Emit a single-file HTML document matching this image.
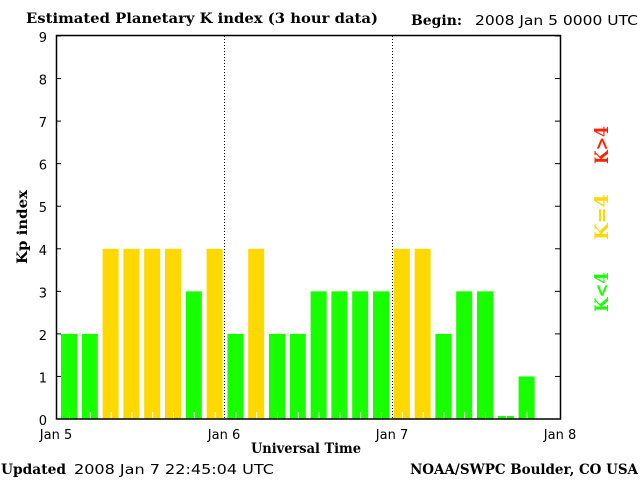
<!DOCTYPE html>
<html><head><meta charset="utf-8"><style>
body{margin:0;background:#fff}
svg{display:block}
.t{font-family:"DejaVu Serif","Liberation Serif",serif;font-weight:bold;font-size:14px}
.n{font-family:"DejaVu Sans","Liberation Sans",sans-serif;font-size:13px}
</style></head><body>
<svg id="c" width="640" height="480" xmlns="http://www.w3.org/2000/svg">
<text class="t" x="26" y="23" textLength="352" lengthAdjust="spacingAndGlyphs">Estimated Planetary K index (3 hour data)</text>
<text class="t" x="411" y="25" textLength="51" lengthAdjust="spacingAndGlyphs">Begin:</text>
<text class="n" x="475" y="25" textLength="163" lengthAdjust="spacingAndGlyphs">2008 Jan 5 0000 UTC</text>
<text class="t" x="1" y="474" textLength="65" lengthAdjust="spacingAndGlyphs">Updated</text>
<text class="n" x="74" y="474" textLength="200" lengthAdjust="spacingAndGlyphs">2008 Jan  7 22:45:04 UTC</text>
<text class="t" x="410" y="474" textLength="228" lengthAdjust="spacingAndGlyphs">NOAA/SWPC Boulder, CO USA</text>
<text class="t" x="306" y="453" text-anchor="middle" textLength="110" lengthAdjust="spacingAndGlyphs">Universal Time</text>
<text class="t" transform="translate(27,227) rotate(-90)" text-anchor="middle" textLength="74" lengthAdjust="spacingAndGlyphs">Kp index</text>
<text class="t" fill="#ff2200" style="font-size:19px" transform="translate(608,145) rotate(-90)" text-anchor="middle" textLength="38" lengthAdjust="spacingAndGlyphs">K&gt;4</text>
<text class="t" fill="#ffd800" style="font-size:19px" transform="translate(608,217) rotate(-90)" text-anchor="middle" textLength="46" lengthAdjust="spacingAndGlyphs">K=4</text>
<text class="t" fill="#18ff00" style="font-size:19px" transform="translate(608,292) rotate(-90)" text-anchor="middle" textLength="40" lengthAdjust="spacingAndGlyphs">K&lt;4</text>
<g id="bars"></g>
<g id="axes"></g>
</svg>
<script>
const kpValues=[2,2,4,4,4,4,3,4, 2,4,2,2,3,3,3,3, 4,4,2,3,3,0,1];
const yTicks=[0,1,2,3,4,5,6,7,8,9];
const dayLabels=["Jan 5","Jan 6","Jan 7","Jan 8"];
const NS="http://www.w3.org/2000/svg";
const L=56,R=560,T=36,B=419;
const y=v=>B-v*(B-T)/9;
const xBar=i=>61+i*20.8;
const xDay=d=>L+d*(R-L)/3;
function mk(tag,attrs,parent){const e=document.createElementNS(NS,tag);for(const k in attrs)e.setAttribute(k,attrs[k]);parent.appendChild(e);return e;}
const bars=document.getElementById('bars'),axes=document.getElementById('axes');
kpValues.forEach((v,i)=>{
  const col=v>4?"#ff2200":(v==4?"#ffd800":"#18ff00");
  let top=y(v); if(B-top<3) top=B-3;
  const r=mk('rect',{x:xBar(i),y:top,width:16,height:B-top,fill:col},bars);
  
  
  const tk=mk('line',{x1:xBar(i)+8.5,x2:xBar(i)+8.5,y1:B,y2:B-7,stroke:"#fff","stroke-width":1},bars);
  
  
});
[1,2].forEach(d=>{
  const l=mk('line',{x1:xDay(d)+0.5,x2:xDay(d)+0.5,y1:T,y2:B,stroke:"#000","stroke-dasharray":"1,2"},axes);
  
  
});
const f=mk('rect',{x:L+0.5,y:T-0.5,width:R-L,height:B-T+0.5,fill:"none",stroke:"#000","stroke-width":1.5},axes);


yTicks.forEach(v=>{
  const a=mk('line',{x1:L,x2:L+5,y1:y(v),y2:y(v),stroke:"#000"},axes);
  
  
  const b=mk('line',{x1:R-5,x2:R,y1:y(v),y2:y(v),stroke:"#000"},axes);
  
  
  const t=mk('text',{x:47,y:y(v)+6,"text-anchor":"end",class:"n","font-size":"15"},axes);
  t.textContent=v;
  
  
});
dayLabels.forEach((s,d)=>{
  const t=mk('text',{x:xDay(d),y:439,"text-anchor":"middle",class:"n"},axes);
  t.textContent=s;
  
  
});
</script>
</body></html>
